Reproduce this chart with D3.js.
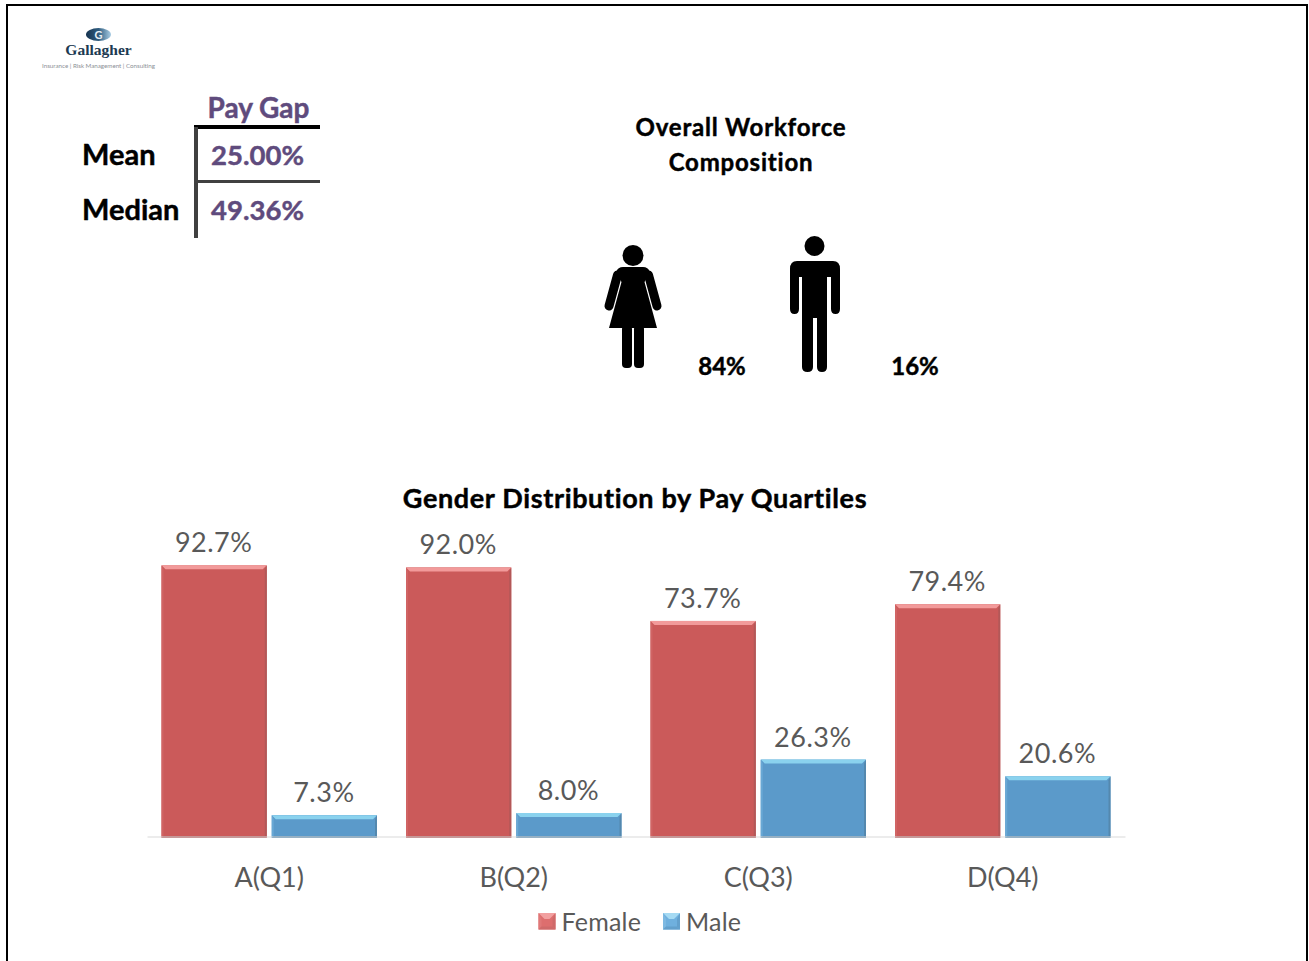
<!DOCTYPE html>
<html lang="en">
<head>
<meta charset="UTF-8">
<title>Gender Distribution by Pay Quartiles</title>
<script src="https://d3js.org/d3.v7.min.js"></script>
<style>
  body { margin: 0; background: #fff; }
  svg { display: block; font-family: Lato, "Open Sans", sans-serif; font-variant-ligatures: none; }
  .heavy { font-weight: 700; stroke: currentColor; stroke-width: 0.45px; }
</style>
</head>
<body>
<div class="canvas"></div>
<script>
const quartiles = ['A(Q1)', 'B(Q2)', 'C(Q3)', 'D(Q4)']
const female = [92.7, 92.0, 73.7, 79.4]
const male = [7.3, 8.0, 26.3, 20.6]
const seriesNames = ['Female', 'Male']
const gapLabels = ['Mean', 'Median']
const gapValues = ['25.00%', '49.36%']
const composition = ['84%', '16%']

const width = 1309
const height = 961

const svg = d3.select('.canvas').append('svg')
  .attr('width', width)
  .attr('height', height)

// frame round the slide
svg.append('rect').attr('x', 7).attr('y', 5).attr('width', 1300).attr('height', 970)
  .attr('fill', 'none').attr('stroke', '#000').attr('stroke-width', 2)

// logo
const defs = svg.append('defs')
const globe = defs.append('linearGradient').attr('id', 'globe')
globe.append('stop').attr('offset', '0%').attr('stop-color', '#16334f')
globe.append('stop').attr('offset', '50%').attr('stop-color', '#2f5d80')
globe.append('stop').attr('offset', '100%').attr('stop-color', '#a9cde4')
svg.append('ellipse').attr('cx', 98.5).attr('cy', 34.5).attr('rx', 12.5).attr('ry', 6.5).attr('fill', 'url(#globe)')
svg.append('text').attr('x', 98.5).attr('y', 38.5).attr('text-anchor', 'middle')
  .attr('font-size', 11).attr('font-weight', 700).attr('fill', '#e8f0f6').text('G')
svg.append('text').attr('x', 98.5).attr('y', 55).attr('text-anchor', 'middle')
  .attr('font-family', 'Liberation Serif').attr('font-weight', 700).attr('font-size', 15.5).attr('fill', '#1c3a52').text('Gallagher')
svg.append('text').attr('x', 98.5).attr('y', 68).attr('text-anchor', 'middle')
  .attr('font-size', 6.2).attr('fill', '#8a8f95').text('Insurance  |  Risk Management  |  Consulting')

// pay gap table
const purple = '#5f4b7d'
svg.append('text').attr('class', 'heavy').attr('x', 258.5).attr('y', 118).attr('text-anchor', 'middle')
  .attr('font-size', 28).attr('fill', purple).style('color', purple).text('Pay Gap')
svg.append('line').attr('x1', 194).attr('x2', 320).attr('y1', 127).attr('y2', 127).attr('stroke', '#000').attr('stroke-width', 4)
svg.append('line').attr('x1', 194).attr('x2', 320).attr('y1', 181.5).attr('y2', 181.5).attr('stroke', '#404040').attr('stroke-width', 3)
svg.append('line').attr('x1', 196).attr('x2', 196).attr('y1', 127).attr('y2', 238).attr('stroke', '#404040').attr('stroke-width', 4)
const rowY = d3.scalePoint().domain(gapLabels).range([165, 220])
svg.selectAll('.gap-label').data(gapLabels).enter().append('text').attr('class', 'gap-label heavy')
  .attr('x', 82).attr('y', d => rowY(d))
  .attr('font-size', 29).attr('fill', '#000').text(d => d)
svg.selectAll('.gap-value').data(gapValues).enter().append('text').attr('class', 'gap-value heavy')
  .attr('x', 257.5).attr('y', (d, i) => rowY(gapLabels[i]))
  .attr('text-anchor', 'middle')
  .attr('font-size', 27.5).attr('fill', purple).style('color', purple).text(d => d)

// workforce composition
svg.append('text').attr('class', 'heavy').attr('x', 741).attr('y', 136).attr('text-anchor', 'middle')
  .attr('font-size', 24).style('letter-spacing', '0.8px').text('Overall Workforce')
svg.append('text').attr('class', 'heavy').attr('x', 741).attr('y', 171).attr('text-anchor', 'middle')
  .attr('font-size', 24).style('letter-spacing', '0.8px').text('Composition')

const woman = svg.append('g').attr('transform', 'translate(590,225)')
woman.append('circle').attr('cx', 43).attr('cy', 30.5).attr('r', 10.5)
woman.append('path').attr('d', 'M33 42 L53 42 Q58 42 60 47 L54.5 57 L67 103 L19 103 L31.5 57 L26 47 Q28 42 33 42 Z')
woman.selectAll('.arm').data([[27.5, 50, 19, 81], [58.5, 50, 67, 81]]).enter().append('line').attr('class', 'arm')
  .attr('x1', d => d[0]).attr('y1', d => d[1]).attr('x2', d => d[2]).attr('y2', d => d[3])
  .attr('stroke', '#000').attr('stroke-width', 9).attr('stroke-linecap', 'round')
woman.selectAll('.leg').data([32, 44]).enter().append('rect').attr('class', 'leg')
  .attr('x', d => d).attr('y', 100).attr('width', 10).attr('height', 43).attr('rx', 4)

const man = svg.append('g').attr('transform', 'translate(590,225)')
man.append('circle').attr('cx', 224.5).attr('cy', 21).attr('r', 10)
man.append('path').attr('d', 'M207 36 L243 36 Q250 36 250 44 L250 84 Q250 89 245.5 89 Q241 89 241 84 L241 52 L237 52 L237 142 Q237 147 232 147 Q227 147 227 142 L227 93 L223 93 L223 142 Q223 147 217.5 147 Q212 147 212 142 L212 52 L209 52 L209 84 Q209 89 204.5 89 Q200 89 200 84 L200 44 Q200 36 207 36 Z')

svg.selectAll('.share').data(composition).enter().append('text').attr('class', 'share heavy')
  .attr('x', (d, i) => i === 0 ? 722 : 915).attr('y', 375)
  .attr('text-anchor', 'middle').attr('font-size', 24).text(d => d)

// bar chart
svg.append('text').attr('class', 'heavy').attr('x', 635).attr('y', 508).attr('text-anchor', 'middle')
  .attr('font-size', 27).style('letter-spacing', '0.65px').text('Gender Distribution by Pay Quartiles')

const x = d3.scaleBand().domain(quartiles).range([147, 1125]).paddingInner(0).paddingOuter(0)
const inner = d3.scaleBand().domain(seriesNames).range([14.5, x.bandwidth() - 14.5]).paddingInner(0.045).paddingOuter(0)
const y = d3.scaleLinear().domain([0, 100]).range([836.5, 544])

const colors = {
  Female: { base: '#cb5a5a', top: '#f29a9a', side: '#d06464', dark: '#b25858' },
  Male: { base: '#5b9aca', top: '#8ad2ee', side: '#69a8d4', dark: '#5488ae' }
}
const legendColors = {
  Female: { base: '#dd6e6e', top: '#f2a0a0', side: '#e07878', dark: '#cf6a6a' },
  Male: { base: '#6fb0de', top: '#a5daf3', side: '#7db9e2', dark: '#63a0cc' }
}

// s is the depth of the top strip, t of the other three edges
function bevel(g, bx, by, w, h, c, s, t) {
  g.append('rect').attr('x', bx).attr('y', by).attr('width', w).attr('height', h).attr('fill', c.base)
  const poly = (pts, fill) => g.append('polygon').attr('points', pts.map(p => p.join(',')).join(' ')).attr('fill', fill)
  poly([[bx, by], [bx + t, by + s], [bx + t, by + h - t], [bx, by + h]], c.side)
  poly([[bx + w, by], [bx + w - t, by + s], [bx + w - t, by + h - t], [bx + w, by + h]], c.dark)
  poly([[bx, by + h], [bx + t, by + h - t], [bx + w - t, by + h - t], [bx + w, by + h]], c.dark)
  poly([[bx, by], [bx + w, by], [bx + w - s, by + s], [bx + s, by + s]], c.top)
}

const bars = svg.append('g')
seriesNames.forEach((name, k) => {
  const vals = k === 0 ? female : male
  quartiles.forEach((q, i) => {
    const bx = x(q) + inner(name)
    bevel(bars, bx, y(vals[i]), inner.bandwidth(), y(0) - y(vals[i]) + 1.5, colors[name], 4, 2)
    bars.append('text')
      .attr('x', bx + inner.bandwidth() / 2 - 0.5)
      .attr('y', y(vals[i]) - 13)
      .attr('text-anchor', 'middle')
      .attr('font-size', 27).attr('fill', '#595959')
      .style('letter-spacing', '0.5px')
      .text(vals[i].toFixed(1) + '%')
  })
})

const xAxis = svg.append('g')
  .attr('transform', `translate(0, ${y(0)})`)
  .call(d3.axisBottom(x).tickSize(0).tickPadding(31))
xAxis.select('.domain').attr('stroke', '#d9d9d9').attr('stroke-width', 1)
xAxis.selectAll('text')
  .attr('font-family', 'Lato').attr('font-size', 27).attr('fill', '#595959')

// legend
const legendX = d3.scaleOrdinal().domain(seriesNames).range([538.5, 663])
const legend = svg.selectAll('.legend').data(seriesNames).enter().append('g').attr('class', 'legend')
legend.each(function (d) {
  bevel(d3.select(this), legendX(d), 913, 17, 16.5, legendColors[d], 6, 3)
})
legend.append('text')
  .attr('x', d => legendX(d) + 23).attr('y', 931)
  .attr('font-size', 25).attr('fill', '#595959').style('letter-spacing', '0.2px').text(d => d)
</script>
</body>
</html>
